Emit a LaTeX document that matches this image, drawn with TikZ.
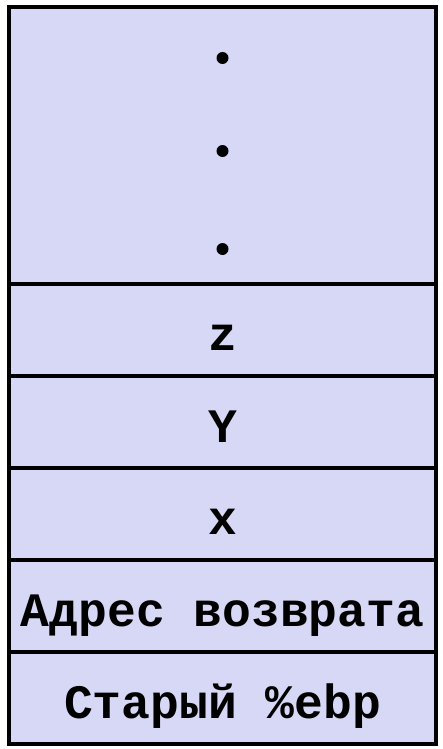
\documentclass[tikz,border=0pt]{standalone}
\usepackage{fontspec}
\setmonofont{Liberation Mono}
\usetikzlibrary{positioning}
\definecolor{stackfill}{RGB}{214,216,245}
\tikzset{
  cell/.style={draw=black, fill=stackfill, line width=3.5pt, outer sep=0pt,
    minimum width=427pt, minimum height=92pt, text height=40pt, text depth=0pt,
    font=\fontsize{48}{52}\selectfont\ttfamily\bfseries},
  dot/.style={circle, fill=black, inner sep=0pt, minimum size=12pt}
}
\begin{document}
\begin{tikzpicture}
  \useasboundingbox (0pt,0pt) rectangle (442pt,-749pt);
  \node[cell, anchor=north west, minimum height=277pt] (more) at (9pt,-7pt) {};
  \node[cell, below=0pt of more] (z) {z};
  \node[cell, below=0pt of z] (y) {Y};
  \node[cell, below=0pt of y] (x) {x};
  \node[cell, below=0pt of x] (ret) {Адрес возврата};
  \node[cell, below=0pt of ret] (ebp) {Старый \%ebp};
  % dots in the top cell
  \node[dot] (d1) at ([yshift=-51pt]more.north) {};
  \node[dot] (d2) at ([yshift=-144pt]more.north) {};
  \node[dot] (d3) at ([yshift=-242pt]more.north) {};
\end{tikzpicture}
\end{document}
